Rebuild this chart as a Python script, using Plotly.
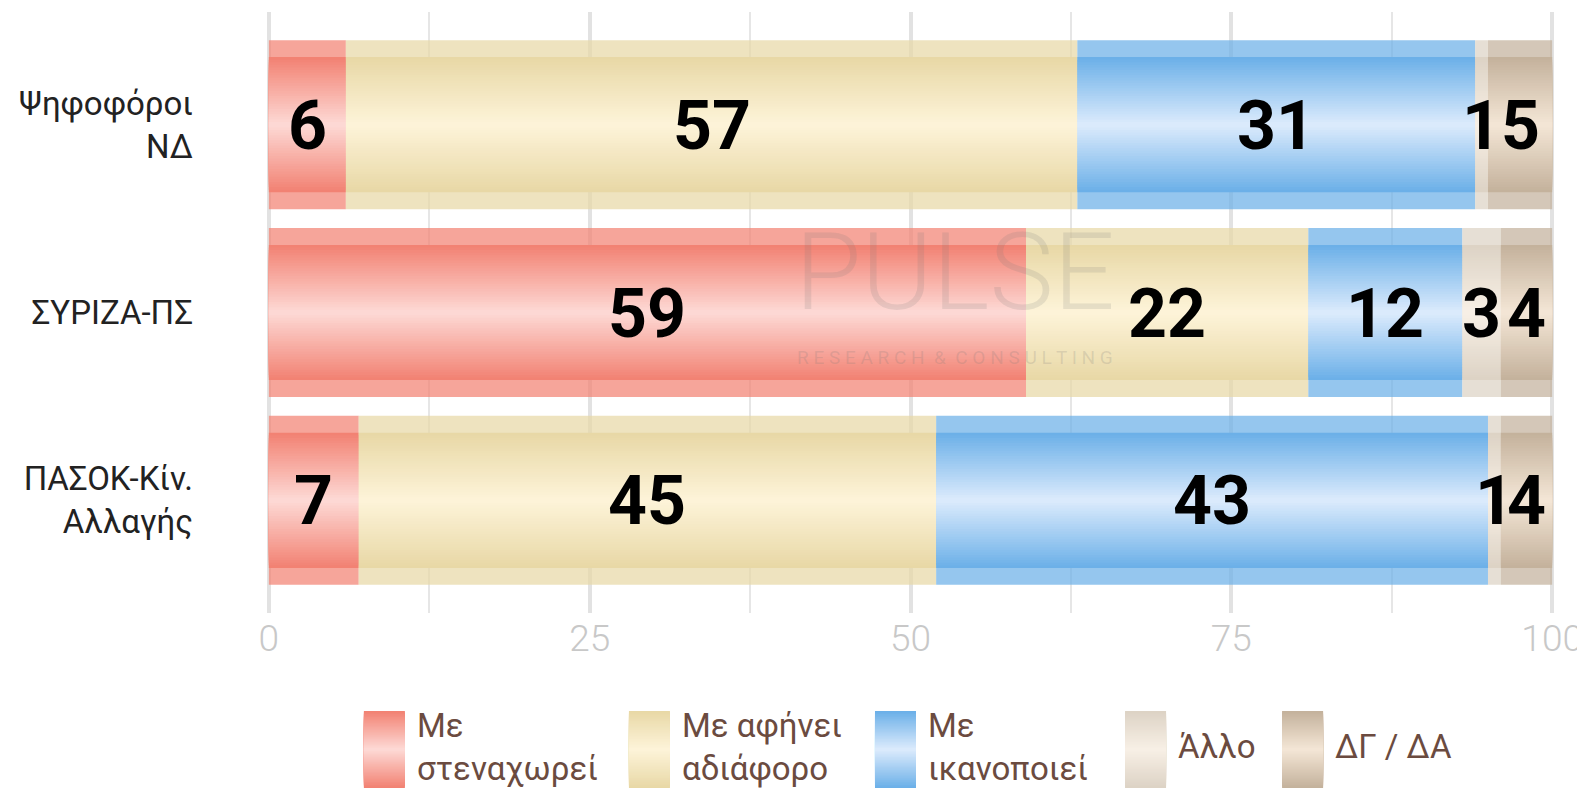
import plotly.graph_objects as go

# ---------------- data ----------------
categories = ["Ψηφοφόροι<br>ΝΔ", "ΣΥΡΙΖΑ-ΠΣ", "ΠΑΣΟΚ-Κίν.<br>Αλλαγής"]
series_names = ["Με<br>στεναχωρεί", "Με αφήνει<br>αδιάφορο", "Με<br>ικανοποιεί", "Άλλο", "ΔΓ / ΔΑ"]
stenaxorei = [6, 59, 7]
adiaforo = [57, 22, 45]
ikanopoiei = [31, 12, 43]
allo = [1, 3, 1]
dg_da = [5, 4, 4]
x_ticks = [0, 25, 50, 75, 100]

series_values = [stenaxorei, adiaforo, ikanopoiei, allo, dg_da]

# ---------------- styles ----------------
edge_cols = [(242, 130, 115), (232, 216, 166), (108, 176, 232), (221, 211, 197), (196, 178, 156)]
center_cols = [(253, 216, 212), (253, 243, 216), (218, 234, 252), (247, 239, 229), (243, 229, 213)]
OUTER_W = 0.9
INNER_W = 0.72
N_LAYERS = 26
FONT = "Roboto, sans-serif"
TEXT_BROWN = "#6b4b40"

def mix(a, b, t):
    return "rgb(%d,%d,%d)" % tuple(round(a[i] + (b[i] - a[i]) * t) for i in range(3))

# flatten segments with bases
ys, xs, bases, sidx = [], [], [], []
for ci, cat in enumerate(categories):
    cum = 0
    for si, vals in enumerate(series_values):
        v = vals[ci]
        ys.append(cat)
        xs.append(v)
        bases.append(cum)
        sidx.append(si)
        cum += v

fig = go.Figure()

# outer translucent band
fig.add_trace(go.Bar(
    y=ys, x=xs, base=bases, orientation="h", width=OUTER_W,
    marker=dict(color=["rgba(%d,%d,%d,0.72)" % edge_cols[s] for s in sidx], line=dict(width=0)),
    hoverinfo="skip", showlegend=False,
))
# gradient layers
for k in range(N_LAYERS):
    t = k / (N_LAYERS - 1)
    w = INNER_W * (1 - t * 0.96)
    fig.add_trace(go.Bar(
        y=ys, x=xs, base=bases, orientation="h", width=w,
        marker=dict(color=[mix(edge_cols[s], center_cols[s], t) for s in sidx], line=dict(width=0)),
        hoverinfo="skip", showlegend=False,
    ))

# ---------------- layout geometry (screen pixels; page body has 8px margin) ----------------
OFF = 8
SCREEN_W, SCREEN_H = 1585, 793
W, H = SCREEN_W - OFF, SCREEN_H - OFF
X_PAD = 0.3
UNIT = 12.83          # px per percentage point
X0_PX, T, B = 269, 12, 613
L = X0_PX - X_PAD * UNIT
R = X0_PX + (100 + X_PAD) * UNIT

def px_x(x):
    return (x - L) / (R - L)

def px_y(y):
    return (B - y) / (B - T)

shapes = []
annotations = []

# value labels centred in each segment
for y, b, v in zip(ys, bases, xs):
    annotations.append(dict(
        x=b + v / 2, y=y, xref="x", yref="y", text=str(v), showarrow=False,
        xanchor="center", yanchor="middle", yshift=-1,
        font=dict(family=FONT, size=68, color="#000000", weight="bold"),
    ))

# custom legend with gradient boxes
leg_left = [364, 629, 875, 1125, 1282]
box_w, box_top, box_bot = 41, 711, 788
for si, name in enumerate(series_names):
    x0 = leg_left[si]
    mid = (box_top + box_bot) / 2
    half = (box_bot - box_top) / 2
    for k in range(N_LAYERS):
        t = k / (N_LAYERS - 1)
        hh = half * (1 - t * 0.96)
        shapes.append(dict(
            type="rect", xref="paper", yref="paper",
            x0=px_x(x0), x1=px_x(x0 + box_w), y0=px_y(mid + hh), y1=px_y(mid - hh),
            fillcolor=mix(edge_cols[si], center_cols[si], t), line=dict(width=0), layer="above",
        ))
    annotations.append(dict(
        xref="paper", yref="paper", x=px_x(x0 + box_w + 10), y=px_y(mid - 3),
        xanchor="left", yanchor="middle", align="left", showarrow=False,
        text=name, font=dict(family=FONT, size=33, color=TEXT_BROWN),
    ))

# watermark
annotations.append(dict(
    xref="paper", yref="paper", x=px_x(955), y=px_y(272), showarrow=False,
    text="PULSE", font=dict(family=FONT, size=108, color="rgba(120,120,120,0.16)", weight=300),
))
annotations.append(dict(
    xref="paper", yref="paper", x=px_x(955), y=px_y(358), showarrow=False,
    text="R E S E A R C H  &  C O N S U L T I N G",
    font=dict(family=FONT, size=19, color="rgba(120,120,120,0.2)"),
))

fig.update_layout(
    width=W, height=H,
    margin=dict(l=L - OFF, r=W - (R - OFF), t=T - OFF, b=H - (B - OFF), autoexpand=False),
    barmode="overlay",
    plot_bgcolor="white", paper_bgcolor="white",
    showlegend=False,
    shapes=shapes,
    annotations=annotations,
    xaxis=dict(
        range=[-X_PAD, 100 + X_PAD], tickvals=x_ticks, ticktext=[str(v) for v in x_ticks],
        showgrid=True, gridcolor="#e2e2e2", gridwidth=4, zeroline=False, showline=False,
        minor=dict(tickvals=[12.5, 37.5, 62.5, 87.5], showgrid=True, gridcolor="#e6e6e6", gridwidth=2),
        tickfont=dict(family=FONT, size=37, color="#c8c8c8", weight=300),
        ticks="", fixedrange=True, automargin=False, ticklabeloverflow="allow",
    ),
    yaxis=dict(
        categoryorder="array", categoryarray=categories,
        range=[2.6, -0.6], showgrid=False, zeroline=False, showline=False,
        tickfont=dict(family=FONT, size=33, color="#222222"),
        ticks="", ticklabelstandoff=71, fixedrange=True, automargin=False,
    ),
)

fig.write_html("out.html")
